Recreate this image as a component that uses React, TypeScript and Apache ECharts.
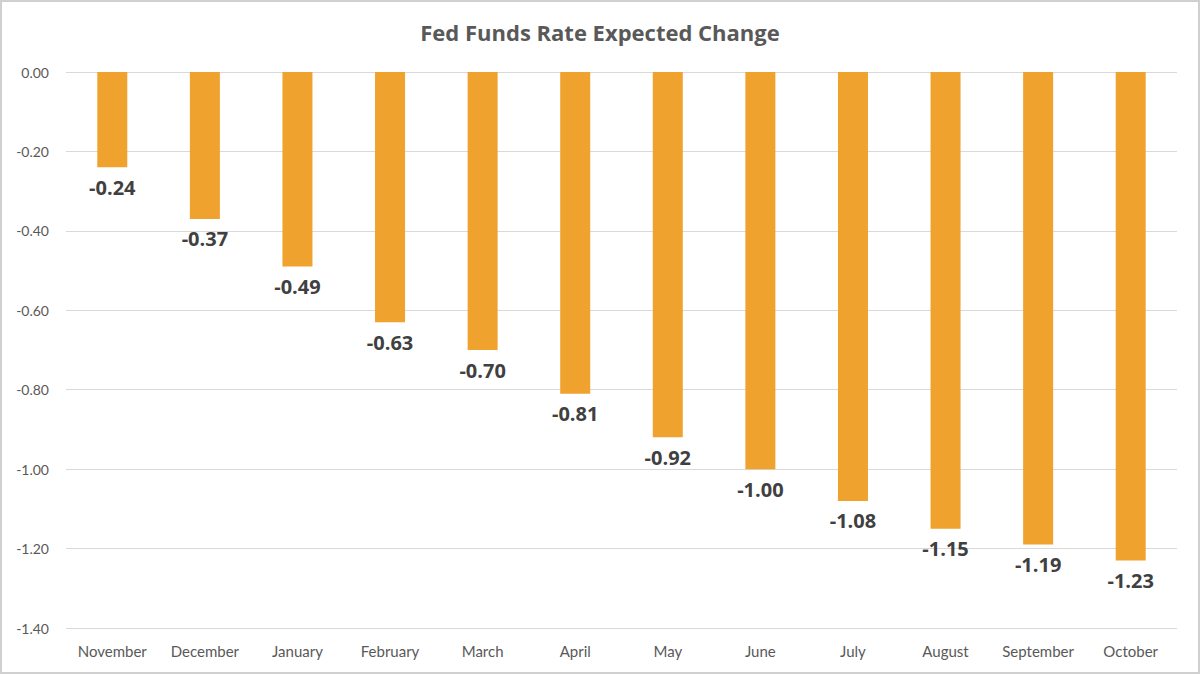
import React, { useEffect, useRef } from "react";
import * as echarts from "echarts";

const categories = ["November", "December", "January", "February", "March", "April", "May", "June", "July", "August", "September", "October"];
const values = [-0.24, -0.37, -0.49, -0.63, -0.70, -0.81, -0.92, -1.00, -1.08, -1.15, -1.19, -1.23];
const titleText = "Fed Funds Rate Expected Change";

export default function App() {
  const ref = useRef<HTMLDivElement>(null);
  useEffect(() => {
    if (!ref.current) return;
    const chart = echarts.init(ref.current, null, { renderer: "svg" });
    chart.setOption({
      animation: false,
      backgroundColor: "#ffffff",
      title: {
        text: titleText,
        left: "center",
        top: 16,
        textStyle: { fontFamily: "Open Sans", fontWeight: "bold", fontSize: 22, color: "#595959" },
      },
      graphic: [
        {
          type: "rect",
          shape: { x: 1, y: 1, width: 1198, height: 672 },
          style: { fill: "none", stroke: "#d0d0d0", lineWidth: 2 },
          silent: true,
        },
      ],
      grid: { left: 66, right: 23, top: 72, bottom: 46, containLabel: false },
      xAxis: {
        type: "category",
        data: categories,
        position: "bottom",
        axisLine: { show: false },
        axisTick: { show: false },
        axisLabel: { interval: 0, fontFamily: "Lato", fontSize: 15, color: "#595959", margin: 15 },
      },
      yAxis: {
        type: "value",
        min: -1.4,
        max: 0,
        interval: 0.2,
        axisLine: { show: false },
        axisTick: { show: false },
        splitLine: { lineStyle: { color: "#d9d9d9", width: 1 } },
        axisLabel: {
          fontFamily: "Lato",
          fontSize: 14,
          color: "#595959",
          margin: 17,
          formatter: (v: number) => v.toFixed(2),
        },
      },
      series: [
        {
          type: "bar",
          data: values,
          barWidth: 30,
          itemStyle: { color: "#EFA22E" },
          label: {
            show: true,
            position: "bottom",
            distance: 10,
            fontFamily: "Open Sans",
            fontWeight: "bold",
            fontSize: 20,
            color: "#404040",
            formatter: (p: any) => Number(p.value).toFixed(2),
          },
        },
      ],
    });
    return () => chart.dispose();
  }, []);
  return (
    <div
      ref={ref}
      style={{ position: "fixed", left: 0, top: 0, width: 1200, height: 674 }}
    />
  );
}
